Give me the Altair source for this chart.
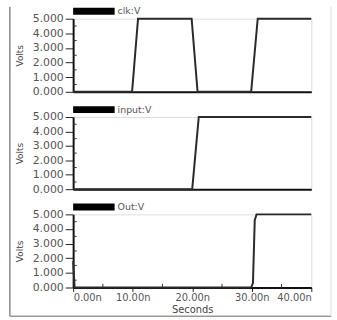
import altair as alt
import pandas as pd

# ---- data ----
clk_t = [0, 9.9, 10.9, 19.9, 20.9, 29.9, 31.0, 40]
clk_v = [0, 0, 5, 5, 0, 0, 5, 5]
input_t = [0, 20.0, 21.1, 40]
input_v = [0, 0, 5, 5]
out_t = [0, 0.25, 29.9, 30.2, 30.5, 30.8, 40]
out_v = [1.8, 0, 0, 0.3, 4.6, 5, 5]
names = ["clk:V", "input:V", "Out:V"]
y_ticks = [0, 1, 2, 3, 4, 5]
y_minor = [0.5, 1.5, 2.5, 3.5, 4.5]
x_ticks = [0, 10, 20, 30, 40]
x_minor = [5, 15, 25, 35]

FONT = "DejaVu Sans"
W = 241
HEIGHTS = [74, 73, 74]


def panel(ts, vs, name, h, bottom):
    df = pd.DataFrame({"t": ts, "v": vs})
    xaxis = alt.Axis(
        values=x_ticks,
        labels=bottom,
        ticks=bottom,
        tickSize=4,
        tickColor="#222",
        title="Seconds" if bottom else None,
        labelExpr="format(datum.value, '.2f') + 'n'",
        labelFontSize=10,
        labelFont=FONT,
        labelColor="#555",
        labelPadding=1,
        labelOverlap=False,
        titleFont=FONT,
        titleFontSize=10,
        titleFontWeight="normal",
        titleColor="#444",
        titlePadding=2,
        domainColor="#111",
        domainWidth=2,
        grid=False,
    )
    yaxis = alt.Axis(
        values=y_ticks,
        labelExpr="format(datum.value, '.3f')",
        tickSize=8,
        tickColor="#222",
        labelFontSize=11,
        labelFont=FONT,
        labelColor="#555",
        labelPadding=2,
        labelOverlap=False,
        labelBound=False,
        title="Volts",
        titleFont=FONT,
        titleFontSize=9,
        titleFontWeight="normal",
        titleColor="#444",
        titlePadding=8,
        domainColor="#111",
        domainWidth=2,
        grid=False,
    )
    xs = alt.Scale(domain=[0, 40], nice=False)
    ys = alt.Scale(domain=[0, 5], nice=False)
    line = alt.Chart(df).mark_line(color="#2a2a2a", strokeWidth=2).encode(
        x=alt.X("t:Q", scale=xs, axis=xaxis),
        y=alt.Y("v:Q", scale=ys, axis=yaxis),
    )
    ymin = alt.Chart(pd.DataFrame({"y": y_minor, "x0": [0] * 5, "x1": [0.6] * 5})).mark_rule(
        color="#333", strokeWidth=1
    ).encode(
        x=alt.X("x0:Q", scale=xs, axis=xaxis),
        x2="x1:Q",
        y=alt.Y("y:Q", scale=ys, axis=yaxis),
    )
    layers = [line, ymin]
    if bottom:
        xmin = alt.Chart(pd.DataFrame({"x": x_minor, "y0": [0] * 4, "y1": [0.25] * 4})).mark_rule(
            color="#333", strokeWidth=1
        ).encode(
            x=alt.X("x:Q", scale=xs, axis=xaxis),
            y=alt.Y("y0:Q", scale=ys, axis=yaxis),
            y2="y1:Q",
        )
        layers.append(xmin)
    ldf = pd.DataFrame({"name": [name]})
    bar = alt.Chart(ldf).mark_rect(color="black").encode(
        x=alt.value(0), x2=alt.value(42), y=alt.value(-11), y2=alt.value(-4)
    )
    txt = alt.Chart(ldf).mark_text(
        align="left", baseline="middle", font=FONT, fontSize=9.5, color="#555"
    ).encode(x=alt.value(45), y=alt.value(-7.5), text="name:N")
    layers += [bar, txt]
    if bottom:
        total_top = -(HEIGHTS[0] + HEIGHTS[1] + 26 + 25 + 12)
        bdf = pd.DataFrame({"k": [0]})
        left = alt.Chart(bdf).mark_rule(color="#888", strokeWidth=1.5).encode(
            x=alt.value(-64), y=alt.value(total_top), y2=alt.value(h + 29)
        )
        bot = alt.Chart(bdf).mark_rule(color="#999", strokeWidth=1.5).encode(
            x=alt.value(-64), x2=alt.value(261), y=alt.value(h + 29)
        )
        right = alt.Chart(bdf).mark_rule(color="#ddd", strokeWidth=1).encode(
            x=alt.value(261), y=alt.value(total_top), y2=alt.value(h + 29)
        )
        layers += [left, bot, right]
    return alt.layer(*layers).properties(width=W, height=h)


p1 = panel(clk_t, clk_v, names[0], HEIGHTS[0], False)
p2 = panel(input_t, input_v, names[1], HEIGHTS[1], False)
p3 = panel(out_t, out_v, names[2], HEIGHTS[2], True)

chart = (
    alt.vconcat(p1, p2, p3, spacing=25.5, bounds="flush")
    .properties(padding={"left": 8, "top": 3, "right": 4, "bottom": 4})
    .configure_view(stroke="#777", strokeWidth=1)
    .configure(background="white")
)

chart.save("out.html", embed_options={"renderer": "svg", "actions": False})
